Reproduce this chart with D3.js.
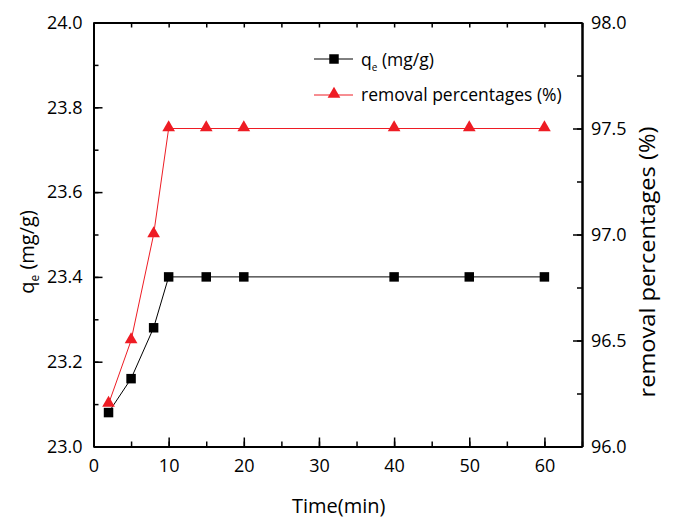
<!DOCTYPE html>
<html lang="en">
<head>
    <meta charset="UTF-8">
    <title>qe and removal vs time</title>
    <style>
        body { margin: 0; background: #fff; }
        text { font-family: "Open Sans", "Noto Sans", sans-serif; fill: #000; }
    </style>
</head>
<body>
<script src="https://d3js.org/d3.v7.min.js"></script>
<script>
    // data
    let time = [2, 5, 8, 10, 15, 20, 40, 50, 60];
    let qe = [23.08, 23.16, 23.28, 23.40, 23.40, 23.40, 23.40, 23.40, 23.40];
    let removal = [96.2, 96.5, 97.0, 97.5, 97.5, 97.5, 97.5, 97.5, 97.5];
    let xTicks = [0, 10, 20, 30, 40, 50, 60];
    let yLeftTicks = [23.0, 23.2, 23.4, 23.6, 23.8, 24.0];
    let yRightTicks = [96.0, 96.5, 97.0, 97.5, 98.0];

    let w = 673, h = 521;
    let inner = {left: 93.5, right: 582, top: 22.5, bottom: 446.5};

    let svg = d3.select("body")
        .append("svg")
        .attr("width", w)
        .attr("height", h);

    let x = d3.scaleLinear().domain([0, 65]).range([inner.left, inner.right]);
    let yL = d3.scaleLinear().domain([23.0, 24.0]).range([inner.bottom, inner.top]);
    let yR = d3.scaleLinear().domain([96.0, 98.0]).range([inner.bottom, inner.top]);

    // axes with inward ticks
    function styleAxis(g) {
        g.select(".domain").attr("stroke", "#000").attr("stroke-width", 2);
        g.selectAll(".tick line").attr("stroke", "#000").attr("stroke-width", 1.5);
        g.selectAll(".tick text").style("font-size", "18px").attr("fill", "#000");
    }

    let xMinor = d3.range(0, 66, 5);
    svg.append("g")
        .attr("transform", "translate(0," + inner.bottom + ")")
        .call(d3.axisBottom(x).tickValues(xMinor).tickSize(-5).tickSizeOuter(0).tickFormat(""))
        .call(styleAxis);
    svg.append("g")
        .attr("transform", "translate(0," + inner.bottom + ")")
        .call(d3.axisBottom(x).tickValues(xTicks).tickSize(-9).tickSizeOuter(0).tickPadding(13).tickFormat(d3.format("d")))
        .call(styleAxis);
    svg.append("g")
        .attr("transform", "translate(0," + inner.top + ")")
        .call(d3.axisTop(x).tickValues(xMinor).tickSize(-5).tickSizeOuter(0).tickFormat(""))
        .call(styleAxis);

    let yLMinor = d3.range(23.0, 24.01, 0.1);
    svg.append("g")
        .attr("transform", "translate(" + inner.left + ",0)")
        .call(d3.axisLeft(yL).tickValues(yLMinor).tickSize(-5).tickSizeOuter(0).tickFormat(""))
        .call(styleAxis);
    svg.append("g")
        .attr("transform", "translate(" + inner.left + ",0)")
        .call(d3.axisLeft(yL).tickValues(yLeftTicks).tickSize(-9).tickSizeOuter(0).tickPadding(11).tickFormat(d3.format(".1f")))
        .call(styleAxis);

    let yRMinor = d3.range(96.0, 98.01, 0.25);
    svg.append("g")
        .attr("transform", "translate(" + inner.right + ",0)")
        .call(d3.axisRight(yR).tickValues(yRMinor).tickSize(-5).tickSizeOuter(0).tickFormat(""))
        .call(styleAxis);
    svg.append("g")
        .attr("transform", "translate(" + inner.right + ",0)")
        .call(d3.axisRight(yR).tickValues(yRightTicks).tickSize(-9).tickSizeOuter(0).tickPadding(9).tickFormat(d3.format(".1f")))
        .call(styleAxis);

    // axis titles
    svg.append("text")
        .attr("x", (inner.left + inner.right) / 2 + 1)
        .attr("y", 513)
        .attr("text-anchor", "middle")
        .style("font-size", "20px")
        .text("Time(min)");

    let yTitle = svg.append("text")
        .attr("transform", "translate(34,252) rotate(-90)")
        .attr("text-anchor", "middle")
        .style("font-size", "20px");
    yTitle.append("tspan").text("q");
    yTitle.append("tspan").attr("dy", 5).style("font-size", "12px").text("e");
    yTitle.append("tspan").attr("dy", -5).text(" (mg/g)");

    svg.append("text")
        .attr("transform", "translate(655,262) rotate(-90)")
        .attr("text-anchor", "middle")
        .attr("textLength", 271)
        .attr("lengthAdjust", "spacingAndGlyphs")
        .style("font-size", "22px")
        .text("removal percentages (%)");

    // series
    let qeData = time.map((t, i) => ({t: t, v: qe[i]}));
    let rmData = time.map((t, i) => ({t: t, v: removal[i]}));

    svg.append("path")
        .datum(rmData)
        .attr("fill", "none")
        .attr("stroke", "#ee1c24")
        .attr("stroke-width", 1)
        .attr("d", d3.line().x(d => x(d.t)).y(d => yR(d.v)));

    svg.append("path")
        .datum(qeData)
        .attr("fill", "none")
        .attr("stroke", "#000")
        .attr("stroke-width", 1)
        .attr("d", d3.line().x(d => x(d.t)).y(d => yL(d.v)));

    let tri = d3.symbol().type(d3.symbolTriangle).size(70);
    let sq = d3.symbol().type(d3.symbolSquare).size(90);

    svg.selectAll(".tri")
        .data(rmData)
        .enter()
        .append("path")
        .attr("class", "tri")
        .attr("d", tri)
        .attr("fill", "#ee1c24")
        .attr("transform", d => "translate(" + x(d.t) + "," + (yR(d.v) - 1) + ")");

    svg.selectAll(".sq")
        .data(qeData)
        .enter()
        .append("path")
        .attr("class", "sq")
        .attr("d", sq)
        .attr("fill", "#000")
        .attr("transform", d => "translate(" + x(d.t) + "," + yL(d.v) + ")");

    // legend
    let lg = svg.append("g");
    lg.append("line").attr("x1", 314).attr("x2", 353).attr("y1", 59).attr("y2", 59)
        .attr("stroke", "#000").attr("stroke-width", 1);
    lg.append("path").attr("d", sq).attr("fill", "#000").attr("transform", "translate(334,59)");
    let lt = lg.append("text").attr("x", 361).attr("y", 66).style("font-size", "17.5px");
    lt.append("tspan").text("q");
    lt.append("tspan").attr("dy", 5).style("font-size", "10px").text("e");
    lt.append("tspan").attr("dy", -5).text(" (mg/g)");

    lg.append("line").attr("x1", 314).attr("x2", 353).attr("y1", 95).attr("y2", 95)
        .attr("stroke", "#ee1c24").attr("stroke-width", 1);
    lg.append("path").attr("d", tri).attr("fill", "#ee1c24").attr("transform", "translate(334,94)");
    lg.append("text").attr("x", 361).attr("y", 101).style("font-size", "17.5px").text("removal percentages (%)");
</script>
</body>
</html>
